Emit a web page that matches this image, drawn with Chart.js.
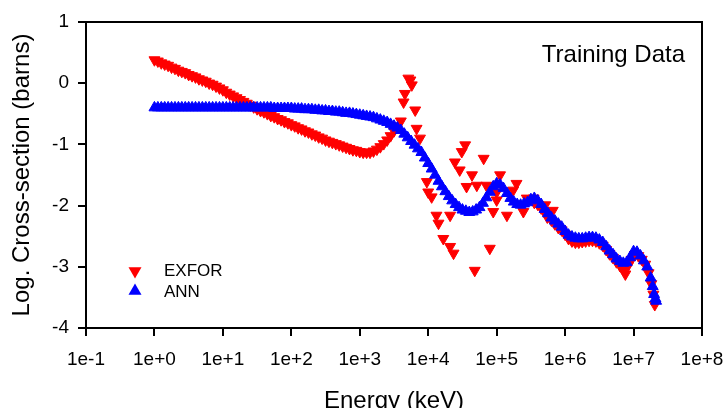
<!DOCTYPE html>
<html>
<head>
<meta charset="utf-8">
<script src="https://cdn.jsdelivr.net/npm/chart.js@4.4.0/dist/chart.umd.min.js"></script>
<style>
    html, body { margin: 0; padding: 0; background: #fff; }
    #wrap { width: 726px; height: 408px; }
</style>
</head>
<body>
<div id="wrap"><canvas id="xsChart" width="726" height="408"></canvas></div>
<script>
// ============================================
// 1. DATA  (x = log10 of energy in keV, y = log cross-section)
// ============================================
const seriesNames = ['EXFOR', 'ANN'];
const panelNote   = 'Training Data';

const xTickValues = [1e-1, 1e0, 1e1, 1e2, 1e3, 1e4, 1e5, 1e6, 1e7, 1e8];
const xTickLabels = ['1e-1', '1e+0', '1e+1', '1e+2', '1e+3', '1e+4', '1e+5', '1e+6', '1e+7', '1e+8'];
const yTickValues = [-4, -3, -2, -1, 0, 1];

// EXFOR: smooth low-energy part
const exforSmooth = [
    [0.00, 0.38], [0.05, 0.36], [0.10, 0.33], [0.15, 0.31], [0.20, 0.29], [0.25, 0.26], [0.30, 0.24], [0.35, 0.21],
    [0.40, 0.19], [0.45, 0.17], [0.50, 0.14], [0.55, 0.12], [0.60, 0.10], [0.65, 0.07], [0.70, 0.05], [0.75, 0.03],
    [0.80, 0.00], [0.85, -0.02], [0.90, -0.05], [0.95, -0.08], [1.00, -0.11], [1.05, -0.15], [1.10, -0.18], [1.15, -0.21],
    [1.20, -0.24], [1.25, -0.27], [1.30, -0.30], [1.35, -0.33], [1.40, -0.36], [1.45, -0.39], [1.50, -0.42], [1.55, -0.45],
    [1.60, -0.47], [1.65, -0.50], [1.70, -0.53], [1.75, -0.55], [1.80, -0.58], [1.85, -0.60], [1.90, -0.63], [1.95, -0.65],
    [2.00, -0.68], [2.05, -0.70], [2.10, -0.73], [2.15, -0.75], [2.20, -0.78], [2.25, -0.80], [2.30, -0.83], [2.35, -0.85],
    [2.40, -0.88], [2.45, -0.90], [2.50, -0.93], [2.55, -0.95], [2.60, -0.97], [2.65, -0.99], [2.70, -1.01], [2.75, -1.03],
    [2.80, -1.05], [2.85, -1.07], [2.90, -1.09], [2.95, -1.10], [3.00, -1.12], [3.05, -1.13], [3.10, -1.13], [3.15, -1.13],
    [3.20, -1.11], [3.25, -1.08], [3.30, -1.04], [3.35, -0.99], [3.40, -0.93], [3.45, -0.86], [3.50, -0.78], [3.55, -0.70],
    [3.60, -0.62]
];

// EXFOR: resonance region (scattered)
const exforScatter = [
    [3.71, 0.08], [3.74, 0.05], [3.76, -0.03], [3.66, -0.17], [3.64, -0.31], [3.81, -0.44], [3.83, -0.74], [3.88, -0.90],
    [4.54, -1.01], [4.49, -1.12], [4.39, -1.29], [4.46, -1.42], [4.81, -1.23], [4.64, -1.50], [4.71, -1.67], [4.56, -1.69],
    [4.85, -1.67], [5.05, -1.50], [5.29, -1.64], [5.24, -1.75], [5.00, -1.78], [5.00, -1.91], [5.15, -2.16], [4.95, -2.10],
    [3.98, -1.61], [4.00, -1.78], [4.05, -1.86], [4.12, -2.16], [4.32, -2.16], [4.15, -2.29], [4.22, -2.54], [4.32, -2.67],
    [4.37, -2.78], [4.90, -2.70], [4.68, -3.06], [5.39, -2.10], [5.44, -1.88], [5.54, -1.88], [5.71, -1.99], [5.82, -2.08],
    [5.74, -2.19]
];

// EXFOR: high-energy part (mostly under the ANN band)
const exforTail = [
    [5.55, -1.95], [5.60, -1.98], [5.65, -2.04], [5.70, -2.10], [5.75, -2.17], [5.80, -2.24], [5.85, -2.30], [5.90, -2.36],
    [5.95, -2.40], [6.00, -2.47], [6.05, -2.54], [6.10, -2.58], [6.15, -2.60], [6.20, -2.60], [6.25, -2.59], [6.30, -2.58],
    [6.35, -2.57], [6.40, -2.57], [6.45, -2.58], [6.50, -2.61], [6.55, -2.65], [6.60, -2.72], [6.65, -2.79], [6.70, -2.85],
    [6.75, -2.92], [6.80, -2.98], [6.85, -3.05], [6.88, -3.12], [6.92, -2.98], [6.97, -2.88], [7.02, -2.80], [7.07, -2.82],
    [7.12, -2.88], [7.17, -2.96], [7.22, -3.10], [7.26, -3.28], [7.29, -3.45], [7.31, -3.62]
];

// ANN prediction
const annPoints = [
    [0.00, -0.40], [0.05, -0.40], [0.10, -0.40], [0.15, -0.40], [0.20, -0.40], [0.25, -0.40], [0.30, -0.40], [0.35, -0.40],
    [0.40, -0.40], [0.45, -0.40], [0.50, -0.40], [0.55, -0.40], [0.60, -0.40], [0.65, -0.40], [0.70, -0.40], [0.75, -0.40],
    [0.80, -0.40], [0.85, -0.40], [0.90, -0.40], [0.95, -0.40], [1.00, -0.40], [1.05, -0.40], [1.10, -0.40], [1.15, -0.40],
    [1.20, -0.40], [1.25, -0.40], [1.30, -0.40], [1.35, -0.40], [1.40, -0.40], [1.45, -0.40], [1.50, -0.40], [1.55, -0.40],
    [1.60, -0.40], [1.65, -0.40], [1.70, -0.40], [1.75, -0.41], [1.80, -0.41], [1.85, -0.41], [1.90, -0.41], [1.95, -0.41],
    [2.00, -0.41], [2.05, -0.42], [2.10, -0.42], [2.15, -0.42], [2.20, -0.43], [2.25, -0.43], [2.30, -0.43], [2.35, -0.44],
    [2.40, -0.44], [2.45, -0.45], [2.50, -0.45], [2.55, -0.46], [2.60, -0.46], [2.65, -0.47], [2.70, -0.47], [2.75, -0.48],
    [2.80, -0.49], [2.85, -0.49], [2.90, -0.50], [2.95, -0.51], [3.00, -0.52], [3.05, -0.53], [3.10, -0.54], [3.15, -0.55],
    [3.20, -0.56], [3.25, -0.58], [3.30, -0.60], [3.35, -0.62], [3.40, -0.64], [3.45, -0.67], [3.50, -0.70], [3.55, -0.73],
    [3.60, -0.77], [3.65, -0.83], [3.70, -0.89], [3.75, -0.95], [3.80, -1.01], [3.85, -1.07], [3.90, -1.13], [3.95, -1.22],
    [4.00, -1.31], [4.05, -1.40], [4.10, -1.50], [4.15, -1.60], [4.20, -1.69], [4.25, -1.77], [4.30, -1.85], [4.35, -1.92],
    [4.40, -1.98], [4.45, -2.03], [4.50, -2.07], [4.55, -2.09], [4.60, -2.11], [4.65, -2.10], [4.70, -2.07], [4.75, -2.03],
    [4.80, -1.96], [4.85, -1.87], [4.90, -1.78], [4.95, -1.69], [5.00, -1.64], [5.05, -1.66], [5.10, -1.72], [5.15, -1.80],
    [5.20, -1.88], [5.25, -1.94], [5.30, -1.98], [5.35, -1.99], [5.40, -1.97], [5.45, -1.95], [5.50, -1.90], [5.55, -1.88],
    [5.60, -1.92], [5.65, -1.98], [5.70, -2.06], [5.75, -2.13], [5.80, -2.20], [5.85, -2.25], [5.90, -2.30], [5.95, -2.35],
    [6.00, -2.42], [6.05, -2.48], [6.10, -2.51], [6.15, -2.53], [6.20, -2.54], [6.25, -2.54], [6.30, -2.53], [6.35, -2.52],
    [6.40, -2.52], [6.45, -2.53], [6.50, -2.56], [6.55, -2.60], [6.60, -2.67], [6.65, -2.74], [6.70, -2.80], [6.75, -2.87],
    [6.80, -2.91], [6.85, -2.94], [6.90, -2.93], [6.95, -2.85], [7.00, -2.75], [7.05, -2.76], [7.10, -2.82], [7.15, -2.90],
    [7.20, -3.00], [7.25, -3.18], [7.28, -3.32], [7.30, -3.45], [7.32, -3.52], [7.33, -3.56]
];

// ============================================
// 2. HELPERS
// ============================================
const FONT = "'Liberation Sans', Arial, sans-serif";
const RED  = '#ff0000';
const BLUE = '#0000ff';

const toXY = pts => pts.map(([logE, v]) => ({ x: Math.pow(10, logE), y: v }));

function triangle(ctx, x, y, r, down, color) {
    const s = down ? -1 : 1;
    ctx.beginPath();
    ctx.moveTo(x, y - s * r);
    ctx.lineTo(x + r * 0.866, y + s * r * 0.5);
    ctx.lineTo(x - r * 0.866, y + s * r * 0.5);
    ctx.closePath();
    ctx.fillStyle = color;
    ctx.fill();
}

// frame, panel note and legend drawn inside the plot
const frameAndNotes = {
    id: 'frameAndNotes',
    afterDraw(chart) {
        const { ctx, chartArea: a } = chart;
        ctx.save();
        ctx.strokeStyle = '#000';
        ctx.lineWidth = 2;
        ctx.beginPath();
        ctx.moveTo(a.left, a.top);
        ctx.lineTo(a.right, a.top);
        ctx.lineTo(a.right, a.bottom);
        ctx.stroke();

        ctx.fillStyle = '#000';
        ctx.font = `24px ${FONT}`;
        ctx.textAlign = 'right';
        ctx.textBaseline = 'alphabetic';
        ctx.fillText(panelNote, a.right - 17, a.top + 40);

        // legend
        const lx = a.left + 49;
        const ly = a.top + 249;
        triangle(ctx, lx, ly, 7.5, true, RED);
        triangle(ctx, lx, ly + 20, 7.5, false, BLUE);
        ctx.fillStyle = '#000';
        ctx.font = `17px ${FONT}`;
        ctx.textAlign = 'left';
        ctx.textBaseline = 'middle';
        ctx.fillText(seriesNames[0], lx + 29, ly);
        ctx.fillText(seriesNames[1], lx + 29, ly + 21);
        ctx.restore();
    }
};

// ============================================
// 3. CHART
// ============================================
new Chart(document.getElementById('xsChart'), {
    type: 'scatter',
    data: {
        datasets: [
            {
                label: seriesNames[0],
                data: toXY(exforSmooth.concat(exforScatter, exforTail)),
                pointStyle: 'triangle',
                rotation: 180,
                pointRadius: 6.3,
                pointBorderWidth: 1,
                backgroundColor: RED,
                borderColor: RED,
                order: 1,
            },
            {
                label: seriesNames[1],
                data: toXY(annPoints),
                pointStyle: 'triangle',
                pointRadius: 6.3,
                pointBorderWidth: 1,
                backgroundColor: BLUE,
                borderColor: BLUE,
                order: 0,
            },
        ],
    },
    options: {
        responsive: false,
        animation: false,
        events: [],
        layout: { padding: 0 },
        plugins: {
            legend: { display: false },
            tooltip: { enabled: false },
        },
        scales: {
            x: {
                type: 'logarithmic',
                min: 0.1,
                max: 1e8,
                afterFit: s => { s.height = 80; s.paddingLeft = 0; s.paddingRight = 24; },
                afterBuildTicks: s => { s.ticks = xTickValues.map(value => ({ value })); },
                grid: { drawOnChartArea: false, drawTicks: true, tickLength: 8, color: '#000', lineWidth: 2 },
                border: { color: '#000', width: 2 },
                ticks: {
                    autoSkip: false,
                    maxRotation: 0,
                    padding: 12,
                    color: '#000',
                    font: { family: FONT, size: 19 },
                    callback: (v, i) => xTickLabels[i],
                },
                title: {
                    display: true,
                    text: 'Energy (keV)',
                    color: '#000',
                    font: { family: FONT, size: 24 },
                    padding: { top: 0, bottom: -8 },
                },
            },
            y: {
                min: -4,
                max: 1,
                afterFit: s => { s.width = 86; s.paddingTop = 22; s.paddingBottom = 0; },
                afterBuildTicks: s => { s.ticks = yTickValues.map(value => ({ value })); },
                grid: { drawOnChartArea: false, drawTicks: true, tickLength: 8, color: '#000', lineWidth: 2 },
                border: { color: '#000', width: 2 },
                ticks: {
                    padding: 9,
                    color: '#000',
                    font: { family: FONT, size: 19 },
                },
                title: {
                    display: true,
                    text: 'Log. Cross-section (barns)',
                    color: '#000',
                    font: { family: FONT, size: 24 },
                    padding: { top: 8, bottom: 0 },
                },
            },
        },
    },
    plugins: [frameAndNotes],
});
</script>
</body>
</html>
